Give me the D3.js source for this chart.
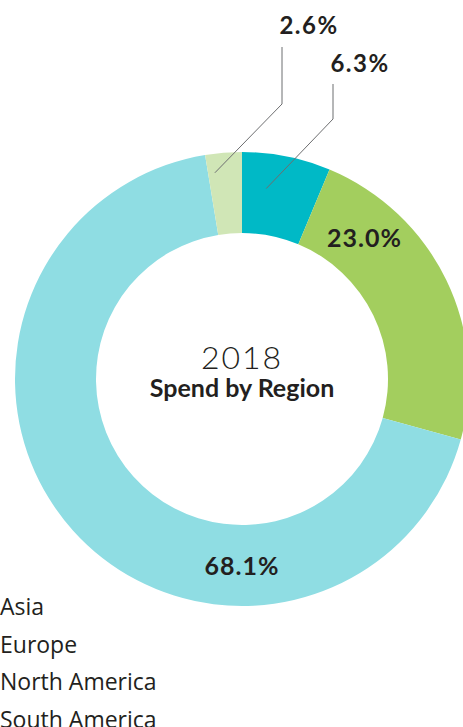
<!DOCTYPE html>
<html>
<head>
<meta charset="utf-8">
<script src="https://cdn.jsdelivr.net/npm/d3@7"></script>
<style>
  html, body { margin: 0; padding: 0; background: #fff; }
  svg { display: block; font-family: Lato, "Open Sans", sans-serif; }
</style>
</head>
<body>
<svg id="chart" width="463" height="727"></svg>
<script>
const regions = ["Asia", "Europe", "North America", "South America"];
const spend = [6.3, 23.0, 68.1, 2.6];
const colors = ["#00b9c6", "#a3ce5e", "#8fdde3", "#d0e6b6"];

const svg = d3.select("#chart");
const cx = 242, cy = 379;
const outerR = 227, innerR = 146;

const pie = d3.pie().sort(null).value(d => d.value);
const arcs = pie(regions.map((r, i) => ({ region: r, value: spend[i], color: colors[i] })));

const arc = d3.arc().innerRadius(innerR).outerRadius(outerR);

const g = svg.append("g").attr("transform", `translate(${cx},${cy})`);

g.selectAll("path.slice")
    .data(arcs)
    .join("path")
    .attr("class", "slice")
    .attr("d", arc)
    .attr("fill", d => d.data.color);

// big slices get labels inside the ring, small ones a leader line
const inside = { "Europe": 0.22, "North America": 0.304 }; // fraction along slice
const labelR = 187;
const pt = (a, r) => [Math.sin(a) * r, -Math.cos(a) * r];

arcs.filter(d => inside[d.data.region] !== undefined).forEach(d => {
    const a = d.startAngle + (d.endAngle - d.startAngle) * inside[d.data.region];
    const [x, y] = pt(a, labelR);
    g.append("text")
        .attr("x", x)
        .attr("y", y + 9)
        .attr("text-anchor", "middle")
        .attr("font-size", 25)
        .attr("font-weight", 700)
        .attr("letter-spacing", 1)
        .attr("fill", "#231f20")
        .text(d.data.value.toFixed(1) + "%");
});

// leader labels: elbow x, elbow y, top of line, label baseline
const leaders = {
    "Asia": { r: 192, frac: 0.32, ex: 91, ey: -260, top: -295, ty: -307 },
    "South America": { r: 208, frac: 0.2, ex: 40, ey: -275, top: -332, ty: -345 }
};

arcs.filter(d => leaders[d.data.region]).forEach(d => {
    const L = leaders[d.data.region];
    const a = d.startAngle + (d.endAngle - d.startAngle) * L.frac;
    const [x, y] = pt(a, L.r);
    g.append("polyline")
        .attr("points", [[x, y], [L.ex, L.ey], [L.ex, L.top]].map(p => p.join(",")).join(" "))
        .attr("fill", "none")
        .attr("stroke", "#6d6e70")
        .attr("stroke-width", 1);
    g.append("text")
        .attr("x", L.ex + 27)
        .attr("y", L.ty)
        .attr("text-anchor", "middle")
        .attr("font-size", 24)
        .attr("font-weight", 700)
        .attr("letter-spacing", 1.5)
        .attr("fill", "#231f20")
        .text(d.data.value.toFixed(1) + "%");
});

// centre title
g.append("text")
    .attr("y", -10)
    .attr("text-anchor", "middle")
    .attr("font-size", 32)
    .attr("font-weight", 300)
    .attr("letter-spacing", 2)
    .attr("fill", "#231f20")
    .text("2018");

g.append("text")
    .attr("y", 18)
    .attr("text-anchor", "middle")
    .attr("font-size", 25)
    .attr("font-weight", 700)
    .attr("fill", "#231f20")
    .text("Spend by Region");

// legend (text only)
svg.append("g")
    .selectAll("text")
    .data(regions)
    .join("text")
    .attr("x", 0)
    .attr("y", (d, i) => 615 + i * 37.5)
    .attr("font-family", "'Open Sans', sans-serif")
    .attr("font-size", 23)
    .attr("fill", "#231f20")
    .text(d => d);
</script>
</body>
</html>
